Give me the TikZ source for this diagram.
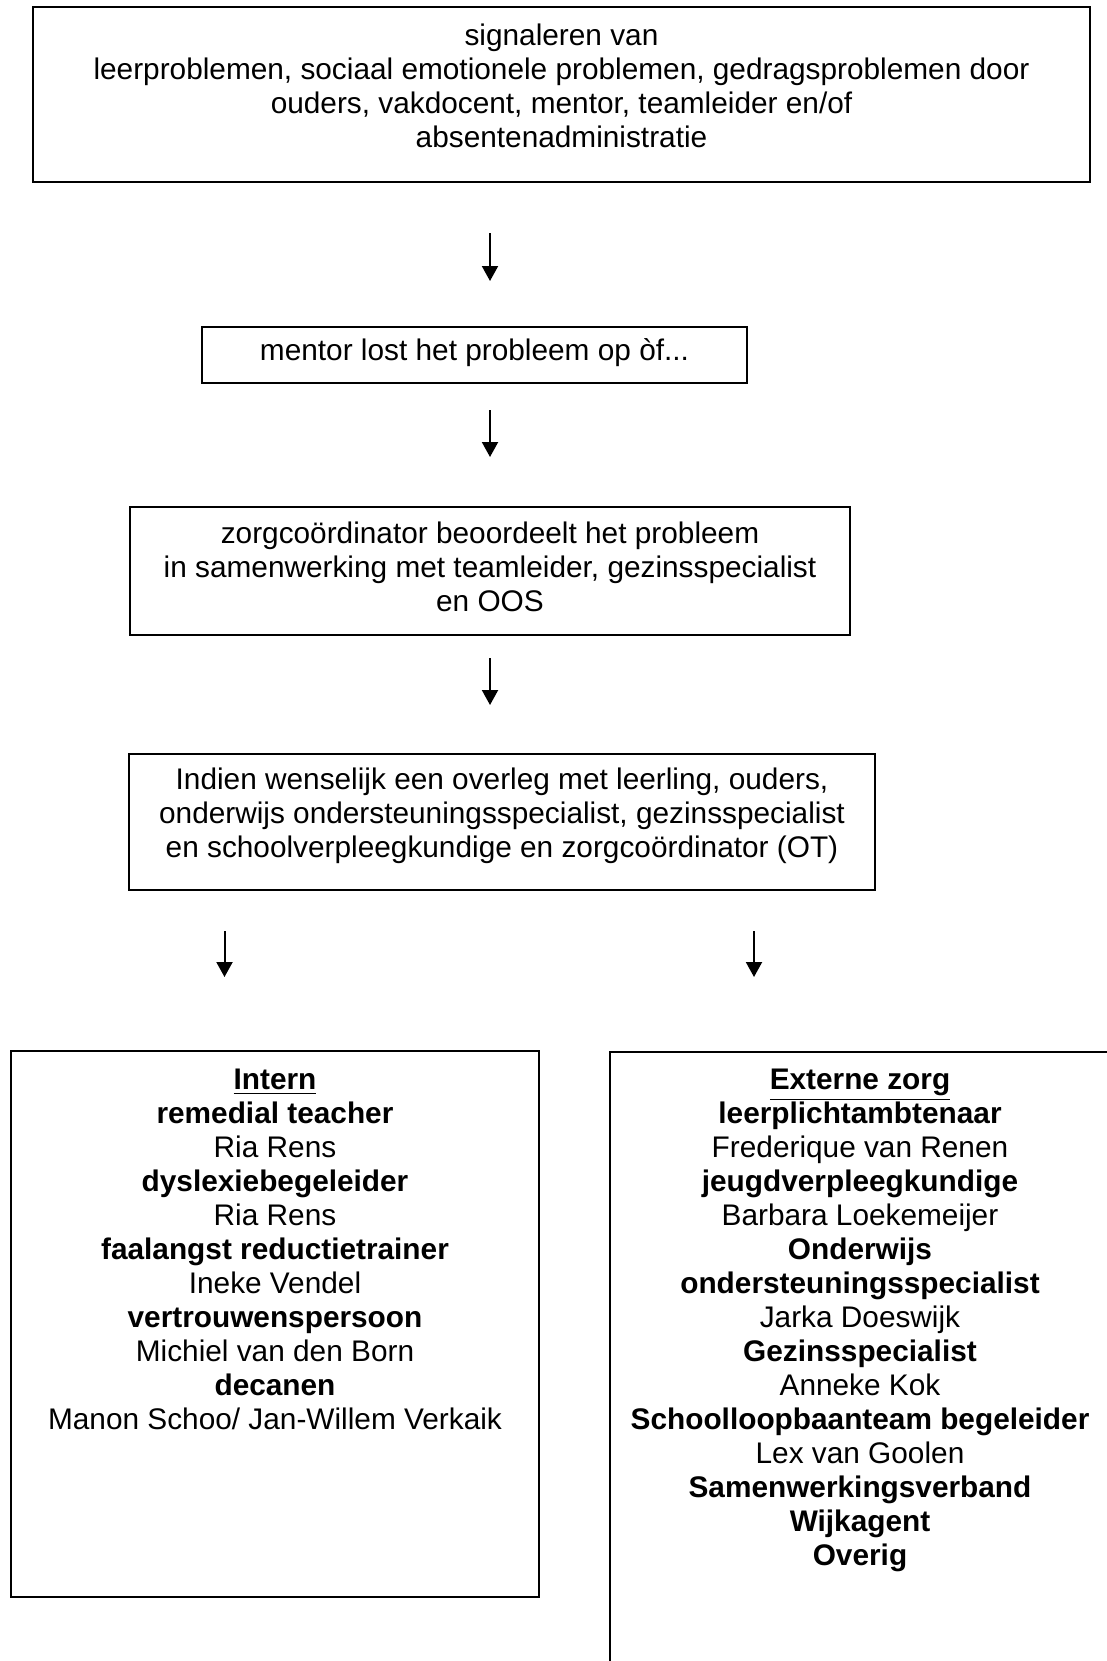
\documentclass[tikz,border=0pt]{standalone}
\usepackage{fontspec}
\setmainfont{Liberation Sans}
\usetikzlibrary{positioning,arrows.meta}
\newcommand{\flowfont}{\fontsize{14.9}{17}\selectfont}
\tikzset{
    box/.style={draw, line width=1pt, inner sep=0pt},
    txt/.style={align=center, inner sep=0pt, font=\flowfont},
    arr/.style={line width=1pt, -{Triangle[length=7.5pt,width=8pt]}}
}
\begin{document}
\begin{tikzpicture}[x=0.5pt, y=-0.5pt]
            \useasboundingbox (0,0) rectangle (1107,1661);
            \clip (0,0) rectangle (1107,1661);

            % boxes
            \node[box, minimum width=528.5pt, minimum height=87.5pt] (sig) at (561.5,94.5) {};
            \node[box, minimum width=272.5pt, minimum height=28pt] (mentor) at (474.5,355) {};
            \node[box, minimum width=360pt, minimum height=64pt] (zorg) at (490,571) {};
            \node[box, minimum width=373pt, minimum height=68pt] (overleg) at (502,822) {};
            \node[box, minimum width=264pt, minimum height=273pt] (intern) at (275,1324) {};
            \node[box, minimum width=250pt, minimum height=324pt] (extern) at (860,1376) {};

            % texts
            \node[txt, below=8.6pt of sig.north] (sigtext) {signaleren van\\
                leerproblemen, sociaal emotionele problemen, gedragsproblemen door\\
                ouders, vakdocent, mentor, teamleider en/of\\
                absentenadministratie};
            \node[txt, below=6.3pt of mentor.north] (mentortext) {mentor lost het probleem op òf...};
            \node[txt, below=7.9pt of zorg.north] (zorgtext) {zorgcoördinator beoordeelt het probleem\\
                in samenwerking met teamleider, gezinsspecialist\\
                en OOS};
            \node[txt, below=7.4pt of overleg.north] (overlegtext) {Indien wenselijk een overleg met leerling, ouders,\\
                onderwijs ondersteuningsspecialist, gezinsspecialist\\
                en schoolverpleegkundige en zorgcoördinator (OT)};
            \node[txt, below=9.5pt of intern.north] (interntext) {\underline{\textbf{Intern}}\\
                \textbf{remedial teacher}\\
                Ria Rens\\
                \textbf{dyslexiebegeleider}\\
                Ria Rens\\
                \textbf{faalangst reductietrainer}\\
                Ineke Vendel\\
                \textbf{vertrouwenspersoon}\\
                Michiel van den Born\\
                \textbf{decanen}\\
                Manon Schoo/ Jan-Willem Verkaik};
            \node[txt, below=9pt of extern.north] (externtext) {\underline{\textbf{Externe zorg}}\\
                \textbf{leerplichtambtenaar}\\
                Frederique van Renen\\
                \textbf{jeugdverpleegkundige}\\
                Barbara Loekemeijer\\
                \textbf{Onderwijs}\\
                \textbf{ondersteuningsspecialist}\\
                Jarka Doeswijk\\
                \textbf{Gezinsspecialist}\\
                Anneke Kok\\
                \textbf{Schoolloopbaanteam begeleider}\\
                Lex van Goolen\\
                \textbf{Samenwerkingsverband}\\
                \textbf{Wijkagent}\\
                \textbf{Overig}};

            % arrows
            \coordinate (a1) at (490,233);
            \coordinate (b1) at (490,281);
            \coordinate (a2) at (490,410);
            \coordinate (b2) at (490,457);
            \coordinate (a3) at (490,658);
            \coordinate (b3) at (490,705);
            \coordinate (a4) at (224.5,931);
            \coordinate (b4) at (224.5,977);
            \coordinate (a5) at (754,931);
            \coordinate (b5) at (754,977);
            \draw[arr] (a1) -- (b1);
            \draw[arr] (a2) -- (b2);
            \draw[arr] (a3) -- (b3);
            \draw[arr] (a4) -- (b4);
            \draw[arr] (a5) -- (b5);

\end{tikzpicture}
\end{document}
